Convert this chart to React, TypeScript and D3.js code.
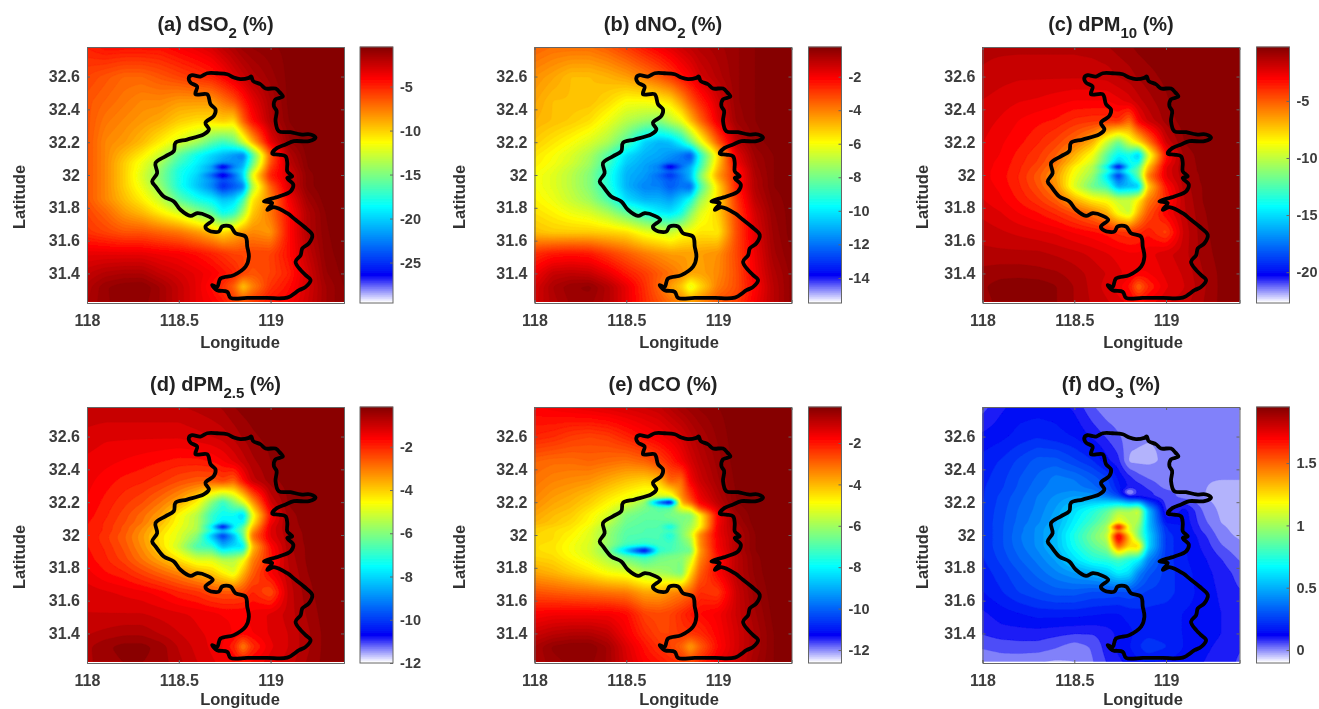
import React, { useEffect, useRef } from "react";
import * as d3 from "d3";

// grid nodes the values below were read at (denser around the city centre)
const lonGrid = [118, 118.1, 118.2, 118.3, 118.4, 118.5, 118.6, 118.68, 118.74, 118.8, 118.85, 118.9, 119, 119.1, 119.2, 119.3, 119.4];
const latGrid = [32.78, 32.6, 32.45, 32.33, 32.2, 32.12, 32.07, 32.05, 32.025, 32.0, 31.975, 31.93, 31.85, 31.77, 31.65, 31.52, 31.4, 31.32, 31.22];
const latGridCO = [32.78, 32.6, 32.45, 32.33, 32.23, 32.2, 32.17, 32.12, 32.07, 32.05, 32.025, 32.0, 31.975, 31.94, 31.905, 31.87, 31.77, 31.65, 31.52, 31.4, 31.32, 31.22];
const latGridO3 = [32.78, 32.6, 32.45, 32.35, 32.29, 32.26, 32.23, 32.15, 32.07, 32.05, 32.025, 32.0, 31.975, 31.93, 31.85, 31.77, 31.65, 31.52, 31.4, 31.32, 31.22];

const dSO2 = [
  [-5, -4.5, -4.5, -4.5, -4.5, -4, -3.5, -3, -2.3, -1.8, -1.3, -1.1, -0.9, -0.7, -0.5, -0.5, -0.5],
  [-6, -6.5, -7, -7, -6.5, -6, -5.5, -5, -4.2, -3.2, -2.6, -2, -1.3, -0.7, -0.5, -0.5, -0.5],
  [-6.5, -7, -7.5, -8, -8, -8.5, -8.5, -8.5, -7.5, -6.5, -5, -3.5, -1.8, -0.7, -0.5, -0.5, -0.5],
  [-6.5, -7.5, -8, -8.5, -9, -10, -10.5, -10.5, -10, -10.5, -7, -4.5, -2, -0.8, -0.5, -0.5, -0.5],
  [-6.5, -8, -8.5, -9.5, -11, -12.5, -14, -16, -17, -16, -13, -9.5, -3.5, -1.2, -0.6, -0.5, -0.5],
  [-6.5, -8, -9.5, -11, -13, -16, -18.5, -20, -21, -22, -23, -17, -7, -2, -0.7, -0.5, -0.5],
  [-6.5, -8, -10, -12, -14, -17, -19, -20.5, -22, -22, -21.5, -16, -6.5, -2.3, -0.8, -0.5, -0.5],
  [-6.5, -8, -10, -12, -14.5, -17.5, -19.5, -22, -29.5, -23, -21, -15, -6, -2.5, -0.8, -0.5, -0.5],
  [-6.5, -8, -10, -12.3, -14.8, -18, -19.5, -21, -22, -21, -20, -13.5, -5.5, -2.8, -0.9, -0.5, -0.5],
  [-6.5, -8, -10, -12.5, -15, -18, -20, -24, -29, -24, -20, -12, -5, -3, -1, -0.5, -0.5],
  [-6.5, -8, -10, -12.4, -15, -18, -20.3, -22, -24, -23, -20.5, -12.5, -5.5, -3, -1, -0.5, -0.5],
  [-6.5, -8, -10, -12, -14.5, -18, -20.5, -22.5, -25.5, -24, -23, -14, -7, -3, -1, -0.5, -0.5],
  [-6.5, -8, -9.5, -11, -13, -16, -18, -19, -20.5, -20, -17, -11, -8, -4, -1.5, -0.6, -0.5],
  [-6, -7, -8.5, -9.5, -11, -12.5, -14.5, -16, -18.5, -17.5, -14, -10, -7.5, -4.5, -2, -0.8, -0.5],
  [-5.5, -6, -6.5, -6.5, -7, -7.5, -8.5, -9.5, -10.5, -9.5, -8.5, -8, -8.5, -4.5, -2, -0.9, -0.5],
  [-3.5, -3.5, -3.5, -3.5, -3.8, -4, -4.5, -5, -5.5, -6, -6, -6, -6, -4.5, -2.5, -1, -0.6],
  [-2.5, -2, -1.8, -1.8, -2.5, -3, -3.5, -4, -4.5, -5, -6, -6.5, -6, -5, -3, -1.2, -0.7],
  [-2, -1.2, -0.9, -0.8, -1.5, -2.5, -3.5, -4.5, -5.5, -7, -10, -8, -5.5, -4.5, -3, -1.5, -0.8],
  [-1.8, -1.2, -1, -1, -1.5, -2.5, -3.5, -4, -4.5, -5.5, -6, -5.5, -4.5, -4, -2.8, -1.5, -0.8],
];

const dNO2 = [
  [-3.6, -3.8, -3.8, -3.8, -3.5, -3, -2.4, -2, -1.7, -1.4, -1.2, -1, -0.8, -0.6, -0.4, -0.3, -0.3],
  [-4.3, -4.6, -5, -5, -4.8, -4.5, -4, -3.5, -3, -2.4, -2, -1.5, -1, -0.6, -0.4, -0.3, -0.3],
  [-4.6, -5, -5, -5, -5.4, -6, -6, -5.8, -5.5, -4.5, -3.5, -2.7, -1.5, -0.6, -0.4, -0.3, -0.3],
  [-4.8, -5, -5.2, -5.5, -6.2, -7, -7.5, -7.8, -7, -6.3, -5, -3.8, -1.8, -0.7, -0.4, -0.3, -0.3],
  [-5.2, -5.6, -6, -6.5, -7.2, -8.5, -10.5, -11, -10.8, -9.8, -8.2, -6.5, -3.5, -1.2, -0.5, -0.3, -0.3],
  [-5.6, -6, -6.5, -7.2, -8.5, -10.3, -11, -11.2, -11.5, -12, -12.8, -9.5, -5.5, -1.8, -0.7, -0.4, -0.3],
  [-5.7, -6.1, -6.6, -7.4, -8.8, -10.6, -11.2, -11.5, -12, -12, -11.8, -9.2, -5.2, -2, -0.8, -0.4, -0.3],
  [-5.8, -6.2, -6.8, -7.5, -9, -10.8, -11.3, -12, -15.3, -12.3, -11, -9, -5, -2.3, -0.8, -0.4, -0.3],
  [-5.9, -6.3, -6.9, -7.7, -9.2, -10.9, -11.3, -11.6, -11.8, -11.5, -11, -8.5, -4.8, -2.5, -0.9, -0.4, -0.3],
  [-6, -6.4, -7, -7.8, -9.3, -11, -11.4, -12.3, -13.5, -12, -11, -8, -4.5, -2.6, -0.9, -0.4, -0.3],
  [-6, -6.4, -7, -7.8, -9.3, -11, -11.5, -12, -12.5, -12, -11, -8.2, -4.8, -2.6, -1, -0.4, -0.3],
  [-6, -6.4, -7, -7.8, -9.2, -11, -11.8, -11.8, -12.5, -12, -12.5, -9, -5.5, -2.6, -1, -0.4, -0.3],
  [-5.8, -6.2, -6.8, -7.4, -8.6, -10.3, -11, -11, -11.3, -10.5, -9.5, -7.5, -5.5, -3, -1.2, -0.5, -0.3],
  [-5.5, -5.8, -6.2, -6.5, -7.2, -8.3, -9.3, -10, -10.2, -9.5, -7.8, -6.5, -5.3, -3.2, -1.5, -0.6, -0.3],
  [-5, -5.2, -5.2, -5.2, -5.3, -5.5, -6.2, -6.5, -6.8, -6.2, -6, -5.6, -5.7, -3.3, -1.7, -0.7, -0.3],
  [-2.8, -2.5, -2.4, -2.5, -3, -3.5, -4, -4.3, -4.5, -4.5, -4.5, -4.5, -4.3, -3.2, -1.9, -0.8, -0.4],
  [-2, -1.3, -1.2, -1.3, -1.8, -2.5, -3, -3.5, -3.8, -4.2, -4.6, -4.6, -4.2, -3.3, -2, -1, -0.5],
  [-1.6, -0.9, -0.6, -0.5, -1, -1.8, -2.8, -3.7, -4.5, -5.2, -6.5, -5.5, -4, -3.3, -2.2, -1.1, -0.5],
  [-1.5, -1, -0.7, -0.7, -1, -1.8, -2.7, -3.3, -3.7, -4, -4.3, -4, -3.3, -3, -2, -1.1, -0.5],
];

const dPM10 = [
  [-1.5, -1.5, -1.5, -1.5, -1.5, -1.5, -1.4, -1.2, -1, -0.8, -0.6, -0.5, -0.4, -0.3, -0.3, -0.3, -0.3],
  [-1.7, -1.9, -2, -2, -2, -2, -2, -1.9, -1.6, -1.4, -1.1, -0.9, -0.6, -0.4, -0.3, -0.3, -0.3],
  [-2.1, -2.3, -2.5, -2.6, -2.8, -3, -3, -3, -2.7, -2.3, -1.8, -1.4, -0.8, -0.4, -0.3, -0.3, -0.3],
  [-2.3, -2.6, -3, -3.3, -3.5, -4, -4.2, -4.2, -4, -5.5, -3, -2, -1, -0.5, -0.3, -0.3, -0.3],
  [-2.5, -2.9, -3.3, -3.8, -4.5, -5.5, -7, -10, -12, -9.5, -8, -6, -2, -0.7, -0.4, -0.3, -0.3],
  [-2.7, -3, -3.6, -4.2, -5.2, -7, -9, -12.5, -14.5, -14, -16, -10, -3.5, -1, -0.5, -0.3, -0.3],
  [-2.8, -3.1, -3.7, -4.4, -5.6, -7.8, -9.8, -13, -16, -14, -14, -8.5, -3, -1.1, -0.5, -0.3, -0.3],
  [-2.8, -3.1, -3.8, -4.6, -6, -8.5, -10.5, -15, -22.5, -15, -12.5, -7.5, -2.5, -1.2, -0.5, -0.3, -0.3],
  [-2.8, -3.2, -3.8, -4.8, -6.2, -8.7, -10.5, -13, -15, -13, -12, -7, -2.5, -1.2, -0.5, -0.3, -0.3],
  [-2.8, -3.2, -3.9, -5, -6.5, -9, -11, -15, -20, -15, -12, -6, -2.5, -1.3, -0.6, -0.3, -0.3],
  [-2.8, -3.2, -3.9, -5, -6.5, -9.2, -11.3, -14.5, -18, -15.5, -13, -6.5, -2.7, -1.3, -0.6, -0.3, -0.3],
  [-2.7, -3.1, -3.8, -4.8, -6.2, -9.5, -12, -13, -16.5, -16, -16, -8, -3.5, -1.4, -0.7, -0.3, -0.3],
  [-2.5, -2.9, -3.5, -4.2, -5.2, -7, -8.5, -9, -10, -10, -8.5, -6, -4, -1.6, -0.7, -0.4, -0.3],
  [-2.2, -2.5, -3, -3.4, -4, -4.8, -5.8, -7, -9, -10, -7, -5, -3, -1.7, -0.8, -0.4, -0.3],
  [-1.8, -2, -2.2, -2.4, -2.6, -3, -3.3, -3.6, -4, -4.2, -4, -3.5, -4.6, -1.9, -0.9, -0.4, -0.3],
  [-1.5, -1.5, -1.5, -1.5, -1.7, -1.9, -2.2, -2.5, -2.7, -2.9, -2.9, -2.7, -2.2, -1.8, -1, -0.5, -0.3],
  [-1, -0.9, -0.9, -1, -1.1, -1.4, -1.8, -2.1, -2.4, -2.7, -3, -3, -2.4, -2, -1.2, -0.6, -0.3],
  [-0.8, -0.5, -0.4, -0.4, -0.7, -1.2, -1.8, -2.3, -2.8, -3.5, -5.5, -4, -2.6, -2.1, -1.3, -0.6, -0.3],
  [-0.9, -0.6, -0.5, -0.5, -0.7, -1.2, -1.7, -2, -2.3, -2.6, -3, -2.7, -2.1, -1.8, -1.2, -0.6, -0.3],
];

const dPM25 = [
  [-0.9, -0.9, -0.9, -0.9, -0.9, -0.9, -0.8, -0.7, -0.6, -0.4, -0.3, -0.25, -0.2, -0.2, -0.16, -0.16, -0.16],
  [-1.2, -1.3, -1.3, -1.3, -1.3, -1.3, -1.2, -1.1, -1, -0.8, -0.6, -0.45, -0.3, -0.2, -0.16, -0.16, -0.16],
  [-1.4, -1.5, -1.6, -1.7, -1.8, -1.9, -1.9, -1.8, -1.6, -1.3, -1, -0.7, -0.4, -0.2, -0.16, -0.16, -0.16],
  [-1.5, -1.7, -1.9, -2, -2.2, -2.5, -2.7, -2.7, -2.4, -2.8, -1.8, -1, -0.5, -0.25, -0.16, -0.16, -0.16],
  [-1.6, -1.9, -2.2, -2.5, -3, -3.6, -4.5, -6, -7, -6, -5, -3.5, -1.1, -0.35, -0.2, -0.16, -0.16],
  [-1.7, -2, -2.4, -2.9, -3.5, -4.6, -5.5, -7, -7.5, -7.5, -8.3, -5, -1.8, -0.5, -0.25, -0.16, -0.16],
  [-1.8, -2.1, -2.5, -3, -3.8, -4.7, -5.5, -7, -8, -7.5, -7.5, -4.5, -1.5, -0.55, -0.25, -0.16, -0.16],
  [-1.8, -2.1, -2.6, -3.2, -4, -4.8, -5.5, -8, -12, -8, -6.5, -4, -1.3, -0.6, -0.25, -0.16, -0.16],
  [-1.8, -2.1, -2.6, -3.3, -4.1, -4.9, -5.6, -7, -7.5, -7, -6.3, -3.5, -1.3, -0.65, -0.28, -0.16, -0.16],
  [-1.8, -2.2, -2.7, -3.4, -4.3, -5, -6, -8.5, -10.5, -8.5, -6.5, -3, -1.3, -0.7, -0.3, -0.16, -0.16],
  [-1.8, -2.2, -2.7, -3.4, -4.3, -5, -6.2, -8, -9.5, -8.5, -6.8, -3.2, -1.4, -0.7, -0.3, -0.16, -0.16],
  [-1.8, -2.1, -2.6, -3.3, -4.2, -5.3, -6.8, -7, -8.5, -8, -8, -4, -1.8, -0.7, -0.35, -0.16, -0.16],
  [-1.7, -2, -2.4, -3, -3.6, -4.3, -5, -5, -5.5, -5.5, -4.8, -3.2, -2, -0.8, -0.35, -0.2, -0.16],
  [-1.5, -1.8, -2, -2.4, -2.8, -3.2, -3.7, -4, -4.5, -5, -3.8, -2.8, -1.6, -0.9, -0.4, -0.2, -0.16],
  [-1.2, -1.3, -1.4, -1.5, -1.7, -2, -2.2, -2.5, -2.6, -2.6, -2.5, -2, -2.6, -1, -0.5, -0.2, -0.16],
  [-1.1, -1.1, -1.1, -1.1, -1.2, -1.3, -1.4, -1.5, -1.6, -1.6, -1.6, -1.5, -1.3, -1, -0.6, -0.25, -0.16],
  [-0.9, -0.8, -0.7, -0.7, -0.9, -1.1, -1.3, -1.4, -1.5, -1.6, -1.7, -1.6, -1.3, -1.1, -0.7, -0.3, -0.16],
  [-0.7, -0.45, -0.3, -0.3, -0.5, -0.9, -1.2, -1.4, -1.6, -2, -3.2, -2.2, -1.4, -1.1, -0.7, -0.3, -0.16],
  [-0.7, -0.5, -0.4, -0.4, -0.5, -0.8, -1.1, -1.3, -1.4, -1.5, -1.6, -1.5, -1.2, -1, -0.6, -0.3, -0.16],
];

const dCO = [
  [-1.8, -1.7, -1.6, -1.5, -1.4, -1.3, -1.2, -1.1, -0.9, -0.7, -0.6, -0.5, -0.4, -0.3, -0.26, -0.26, -0.26],
  [-2.2, -2.3, -2.5, -2.6, -2.5, -2.2, -1.9, -1.7, -1.5, -1.3, -1, -0.8, -0.5, -0.3, -0.26, -0.26, -0.26],
  [-3, -3.1, -3.1, -3, -3.1, -3.2, -3, -2.6, -2.2, -1.7, -1.3, -1, -0.6, -0.3, -0.26, -0.26, -0.26],
  [-3.2, -3.4, -3.5, -3.6, -3.9, -4.2, -4.4, -4.2, -3, -3.2, -1.7, -1.2, -0.7, -0.35, -0.26, -0.26, -0.26],
  [-3.4, -3.7, -3.9, -4.2, -4.6, -5, -5.4, -5.5, -5.5, -3.6, -2.6, -1.6, -0.9, -0.38, -0.28, -0.26, -0.26],
  [-3.5, -3.8, -4, -4.3, -4.8, -5.2, -6.2, -10.5, -12.6, -4, -3, -1.8, -1, -0.4, -0.3, -0.26, -0.26],
  [-3.6, -3.9, -4.1, -4.5, -5, -5.8, -6.5, -7, -7, -5, -4.5, -2.5, -1.2, -0.45, -0.3, -0.26, -0.26],
  [-3.8, -4.1, -4.3, -4.8, -5.4, -6.5, -6.8, -6.8, -6.5, -6.5, -6.5, -5, -1.8, -0.6, -0.3, -0.26, -0.26],
  [-4, -4.2, -4.5, -4.9, -5.7, -6.7, -6.9, -6.9, -7, -6.5, -6.2, -5, -1.7, -0.7, -0.32, -0.26, -0.26],
  [-4.2, -4.4, -4.6, -5.1, -6, -6.8, -7, -7, -8.2, -6.5, -6, -5, -1.6, -0.8, -0.35, -0.26, -0.26],
  [-4.3, -4.5, -4.7, -5.2, -6.1, -6.9, -7, -7, -7, -6.5, -5.8, -4.2, -1.6, -0.85, -0.38, -0.26, -0.26],
  [-4.4, -4.5, -4.8, -5.3, -6.2, -7, -7, -7.1, -7.8, -6.5, -5.5, -3.5, -1.6, -0.9, -0.4, -0.26, -0.26],
  [-4.4, -4.5, -4.9, -5.3, -6.2, -7, -7.2, -7.1, -7.5, -6.6, -6, -3.6, -1.7, -0.9, -0.4, -0.26, -0.26],
  [-4.5, -4.6, -5, -5.4, -6.2, -7.2, -7.4, -7.2, -7.2, -6.8, -6.2, -3.6, -1.7, -0.9, -0.4, -0.26, -0.26],
  [-4.5, -4.6, -5, -5.4, -6.4, -9, -12.2, -7.5, -7.2, -6.8, -6.8, -3.8, -1.8, -0.9, -0.4, -0.26, -0.26],
  [-4.4, -4.5, -4.9, -5.3, -6, -6.8, -7.4, -6.7, -6.5, -6.4, -5.8, -3.6, -2, -1, -0.45, -0.26, -0.26],
  [-3.8, -4, -4.3, -4.6, -5, -5.2, -5.8, -6, -6.2, -6.6, -4.5, -3, -1.8, -1, -0.5, -0.26, -0.26],
  [-2.8, -2.9, -3, -3.1, -3.2, -3.3, -3.8, -3.8, -3.5, -3.3, -3, -2.3, -2.5, -1.2, -0.6, -0.3, -0.26],
  [-1.8, -1.7, -1.7, -1.7, -1.7, -1.9, -2.6, -2.7, -2.6, -2.3, -2, -1.9, -1.7, -1.2, -0.7, -0.35, -0.26],
  [-1.2, -1, -0.9, -0.9, -1.1, -1.7, -2.3, -2.6, -2.6, -2.4, -2.4, -2.3, -1.8, -1.3, -0.8, -0.4, -0.26],
  [-0.8, -0.5, -0.4, -0.4, -0.7, -1.4, -2, -2.4, -2.6, -3, -3.8, -3, -1.9, -1.3, -0.8, -0.4, -0.26],
  [-0.8, -0.6, -0.5, -0.5, -0.7, -1.3, -1.8, -2, -2.2, -2.3, -2.5, -2.2, -1.6, -1.2, -0.7, -0.4, -0.26],
];

const dO3 = [
  [0.05, 0.1, 0.13, 0.13, 0.13, 0.1, 0.03, -0.01, -0.015, -0.015, -0.015, -0.015, -0.015, -0.015, -0.015, -0.015, -0.015],
  [0.12, 0.14, 0.17, 0.19, 0.17, 0.15, 0.1, 0.06, 0.03, 0, -0.01, -0.015, -0.015, -0.015, -0.015, -0.015, -0.015],
  [0.17, 0.2, 0.25, 0.3, 0.3, 0.25, 0.2, 0.12, 0.08, -0.03, -0.03, -0.03, -0.01, -0.01, -0.015, -0.015, -0.015],
  [0.18, 0.22, 0.28, 0.33, 0.38, 0.36, 0.3, 0.24, 0.14, 0.08, 0.04, 0.02, -0.005, -0.01, -0.015, -0.015, -0.015],
  [0.19, 0.23, 0.29, 0.35, 0.39, 0.39, 0.34, 0.27, 0.17, 0.1, 0.09, 0.06, 0.01, 0, -0.015, -0.03, -0.03],
  [0.19, 0.24, 0.3, 0.36, 0.4, 0.42, 0.4, 0.3, 0.2, -0.1, 0.1, 0.08, 0.04, 0.01, -0.015, -0.04, -0.04],
  [0.19, 0.25, 0.31, 0.37, 0.42, 0.46, 0.45, 0.4, 0.3, 0.14, 0.1, 0.08, 0.04, 0.01, -0.015, -0.04, -0.04],
  [0.2, 0.26, 0.33, 0.38, 0.46, 0.6, 0.72, 0.85, 1, 1, 1.1, 0.55, 0.05, 0.13, 0.02, -0.03, -0.04],
  [0.2, 0.27, 0.34, 0.4, 0.49, 0.65, 0.8, 0.95, 1.2, 1.05, 1, 0.55, 0.15, 0.14, 0.04, -0.02, -0.04],
  [0.2, 0.27, 0.35, 0.42, 0.5, 0.67, 0.85, 1, 1.9, 1.1, 0.95, 0.55, 0.2, 0.15, 0.05, -0.01, -0.04],
  [0.2, 0.27, 0.35, 0.42, 0.52, 0.69, 0.87, 1, 1.3, 1.1, 0.92, 0.57, 0.2, 0.15, 0.06, -0.005, -0.035],
  [0.2, 0.27, 0.36, 0.42, 0.52, 0.72, 0.9, 1.05, 1.8, 1.25, 0.9, 0.6, 0.22, 0.16, 0.08, 0, -0.03],
  [0.2, 0.27, 0.36, 0.42, 0.52, 0.71, 0.9, 1.02, 1.75, 1.3, 1, 0.6, 0.22, 0.16, 0.09, 0.01, -0.02],
  [0.2, 0.27, 0.35, 0.42, 0.52, 0.69, 0.85, 0.95, 1.5, 1.25, 1.3, 0.6, 0.22, 0.16, 0.1, 0.03, -0.01],
  [0.19, 0.25, 0.32, 0.38, 0.46, 0.6, 0.72, 0.75, 0.8, 0.72, 0.65, 0.4, 0.22, 0.16, 0.12, 0.07, 0.02],
  [0.17, 0.22, 0.28, 0.34, 0.4, 0.45, 0.5, 0.55, 0.65, 0.6, 0.4, 0.3, 0.22, 0.17, 0.13, 0.09, 0.05],
  [0.15, 0.19, 0.24, 0.27, 0.3, 0.3, 0.27, 0.27, 0.26, 0.27, 0.25, 0.23, 0.22, 0.17, 0.14, 0.1, 0.07],
  [0.1, 0.13, 0.15, 0.17, 0.17, 0.17, 0.16, 0.15, 0.15, 0.17, 0.18, 0.18, 0.17, 0.15, 0.14, 0.11, 0.08],
  [0.07, 0.09, 0.09, 0.09, 0.08, 0.07, 0.07, 0.09, 0.12, 0.14, 0.17, 0.18, 0.17, 0.15, 0.13, 0.11, 0.08],
  [0.03, 0.04, 0.05, 0.05, 0.03, 0, 0.03, 0.09, 0.12, 0.15, 0.19, 0.23, 0.2, 0.15, 0.12, 0.1, 0.07],
  [-0.01, 0, -0.01, -0.02, -0.03, -0.02, 0.02, 0.07, 0.1, 0.12, 0.14, 0.15, 0.14, 0.13, 0.11, 0.09, 0.06],
];

// study area outline, [lon, lat]
const outline: [number, number][] = [
  [118.555, 32.594], [118.573, 32.608], [118.618, 32.6], [118.655, 32.62], [118.709, 32.62], [118.764, 32.614],
  [118.8, 32.594], [118.836, 32.584], [118.882, 32.592], [118.895, 32.6], [118.905, 32.573], [118.945, 32.553],
  [118.973, 32.527], [119.027, 32.527], [119.051, 32.502], [119.067, 32.478], [119.027, 32.461], [119.018, 32.42],
  [119.033, 32.39], [119.027, 32.329], [119.045, 32.267], [119.109, 32.261], [119.164, 32.247], [119.218, 32.247],
  [119.245, 32.227], [119.209, 32.206], [119.127, 32.206], [119.082, 32.186], [119.036, 32.165], [119.009, 32.131],
  [119.045, 32.124], [119.082, 32.114], [119.091, 32.073], [119.091, 32.022], [119.118, 31.992], [119.091, 31.982],
  [119.124, 31.941], [119.109, 31.9], [119.045, 31.869], [118.964, 31.839], [119.009, 31.829], [118.982, 31.788],
  [119.018, 31.804], [119.091, 31.767], [119.136, 31.727], [119.182, 31.686], [119.227, 31.635], [119.209, 31.584],
  [119.173, 31.553], [119.164, 31.512], [119.136, 31.471], [119.164, 31.42], [119.191, 31.39], [119.218, 31.359],
  [119.191, 31.318], [119.155, 31.298], [119.091, 31.253], [118.982, 31.251], [118.873, 31.251], [118.782, 31.251],
  [118.764, 31.288], [118.709, 31.298], [118.682, 31.329], [118.709, 31.318], [118.727, 31.369], [118.8, 31.39],
  [118.864, 31.441], [118.882, 31.502], [118.873, 31.563], [118.864, 31.624], [118.809, 31.645], [118.782, 31.686],
  [118.736, 31.686], [118.718, 31.655], [118.664, 31.661], [118.645, 31.686], [118.685, 31.727], [118.655, 31.751],
  [118.6, 31.767], [118.564, 31.751], [118.509, 31.788], [118.473, 31.839], [118.418, 31.869], [118.373, 31.931],
  [118.355, 31.961], [118.382, 32.012], [118.373, 32.073], [118.427, 32.114], [118.473, 32.145], [118.482, 32.196],
  [118.545, 32.216], [118.636, 32.247], [118.664, 32.278], [118.645, 32.318], [118.691, 32.359], [118.7, 32.4],
  [118.673, 32.431], [118.655, 32.492], [118.591, 32.492], [118.6, 32.539], [118.564, 32.563],
];

const lonTicks = [118, 118.5, 119];
const latTicks = [31.4, 31.6, 31.8, 32, 32.2, 32.4, 32.6];

const colTicks5 = [-25, -20, -15, -10, -5];
const colTicksNO2 = [-14, -12, -10, -8, -6, -4, -2];
const colTicksPM10 = [-20, -15, -10, -5];
const colTicksPM25 = [-12, -10, -8, -6, -4, -2];
const colTicksCO = [-12, -10, -8, -6, -4, -2];
const colTicksO3 = [0, 0.5, 1, 1.5];

const jet = d3
  .scaleLinear<string>()
  .domain([0, 0.105, 0.375, 0.625, 0.875, 1])
  .range(["#ffffff", "#0000f5", "#00ffff", "#ffff00", "#ff0000", "#800000"])
  .clamp(true);

const FONT = "'Liberation Sans', Arial, sans-serif";
const INK = "#3d3d3d";
const EDGE = "#666666";
const PLOT_W = 257;
const PLOT_H = 256;
const BAR_W = 33;
const colX = [87, 534.5, 982.5];
const barX = [360, 808.5, 1256.5];
const rowY = [47, 407];
const xLabelX = [240, 679, 1143];
const yLabelX = [25, 465, 928];
const xLabelY = [348, 705];

const panels = [
  { tag: "(a) dSO", sub: "2", col: 0, row: 0, values: dSO2, lats: latGrid, levels: 90, range: [-29.6, -0.5], ticks: colTicks5 },
  { tag: "(b) dNO", sub: "2", col: 1, row: 0, values: dNO2, lats: latGrid, levels: 90, range: [-15.5, -0.23], ticks: colTicksNO2 },
  { tag: "(c) dPM", sub: "10", col: 2, row: 0, values: dPM10, lats: latGrid, levels: 50, range: [-22.7, -0.28], ticks: colTicksPM10 },
  { tag: "(d) dPM", sub: "2.5", col: 0, row: 1, values: dPM25, lats: latGrid, levels: 50, range: [-12, -0.16], ticks: colTicksPM25 },
  { tag: "(e) dCO", sub: "", col: 1, row: 1, values: dCO, lats: latGridCO, levels: 90, range: [-12.63, -0.26], ticks: colTicksCO },
  { tag: "(f) dO", sub: "3", col: 2, row: 1, values: dO3, lats: latGridO3, levels: 48, range: [-0.104, 1.95], ticks: colTicksO3 },
];

// resample the read values on a regular raster so d3.contours can trace them
function resample(values: number[][], lats: number[], nx: number, ny: number) {
  const lonIdx = d3.scaleLinear().domain(lonGrid).range(d3.range(lonGrid.length));
  const latIdx = d3.scaleLinear().domain(lats).range(d3.range(lats.length));
  const lonAt = d3.scaleLinear().domain([0, nx - 1]).range([118, 119.4]);
  const latAt = d3.scaleLinear().domain([0, ny - 1]).range([32.78, 31.22]);
  const out = new Float64Array(nx * ny);
  for (let j = 0; j < ny; j++) {
    const fy = latIdx(latAt(j));
    const r0 = Math.min(Math.floor(fy), lats.length - 2);
    const ty = fy - r0;
    for (let i = 0; i < nx; i++) {
      const fx = lonIdx(lonAt(i));
      const c0 = Math.min(Math.floor(fx), lonGrid.length - 2);
      const tx = fx - c0;
      const top = values[r0][c0] * (1 - tx) + values[r0][c0 + 1] * tx;
      const bot = values[r0 + 1][c0] * (1 - tx) + values[r0 + 1][c0 + 1] * tx;
      out[j * nx + i] = top * (1 - ty) + bot * ty;
    }
  }
  d3.blur2({ data: out, width: nx, height: ny }, 0.5);
  return out;
}

function drawPanel(root: SVGGElement, p: (typeof panels)[number], idx: number) {
  const g = d3.select(root);
  g.selectAll("*").remove();
  const x0 = colX[p.col];
  const y0 = rowY[p.row];
  const x = d3.scaleLinear().domain([118, 119.4]).range([x0, x0 + PLOT_W]);
  const y = d3.scaleLinear().domain([31.22, 32.78]).range([y0 + PLOT_H, y0]);
  const col = d3.scaleLinear().domain(p.range).range([0, 1]);

  const nx = 200;
  const ny = 200;
  const grid = resample(p.values, p.lats, nx, ny);
  const step = (p.range[1] - p.range[0]) / p.levels;
  const levels = d3.range(p.levels).map((i) => p.range[0] + step * i);
  const contours = d3.contours().size([nx, ny]).thresholds(levels)(Array.from(grid));
  const gx = d3.scaleLinear().domain([0.5, nx - 0.5]).range([x0, x0 + PLOT_W]);
  const gy = d3.scaleLinear().domain([0.5, ny - 0.5]).range([y0, y0 + PLOT_H]);
  const path = d3.geoPath(
    d3.geoTransform({
      point(a, b) {
        this.stream.point(gx(a), gy(b));
      },
    })
  );

  const clipId = `plot-clip-${idx}`;
  g.append("clipPath")
    .attr("id", clipId)
    .append("rect")
    .attr("x", x0)
    .attr("y", y0)
    .attr("width", PLOT_W)
    .attr("height", PLOT_H - 1.5);

  const field = g.append("g").attr("clip-path", `url(#${clipId})`);
  field
    .selectAll("path")
    .data(contours)
    .join("path")
    .attr("d", (d) => path(d as any))
    .attr("fill", (d) => jet(col(d.value + step / 2)))
    .attr("stroke", (d) => jet(col(d.value + step / 2)))
    .attr("stroke-width", 0.3);

  const border = d3
    .line<[number, number]>()
    .x((d) => x(d[0]))
    .y((d) => y(d[1]))
    .curve(d3.curveCatmullRomClosed.alpha(0.5));
  g.append("path")
    .attr("d", border(outline))
    .attr("fill", "none")
    .attr("stroke", "#000")
    .attr("stroke-width", 3.8)
    .attr("stroke-linejoin", "round");

  const fmt = d3.format("");
  const style = (a: any) => {
    a.selectAll("path").attr("stroke", EDGE).attr("stroke-width", 1);
    a.selectAll("line").attr("stroke", EDGE);
    a.selectAll("text")
      .attr("fill", INK)
      .attr("font-family", FONT)
      .attr("font-weight", "bold")
      .attr("font-size", 16);
  };
  g.append("g")
    .attr("transform", `translate(0,${y0 + PLOT_H})`)
    .call(d3.axisBottom(x).tickValues(lonTicks).tickSize(-3).tickPadding(12).tickFormat((d) => fmt(d as number)))
    .call(style);
  g.append("g")
    .attr("transform", `translate(${x0},0)`)
    .call(d3.axisLeft(y).tickValues(latTicks).tickSize(-3).tickPadding(7).tickFormat((d) => fmt(d as number)))
    .call(style);
  g.append("g")
    .attr("transform", `translate(0,${y0})`)
    .call(d3.axisTop(x).tickValues(lonTicks).tickSize(-3).tickFormat(() => ""))
    .call(style);
  g.append("g")
    .attr("transform", `translate(${x0 + PLOT_W},0)`)
    .call(d3.axisRight(y).tickValues(latTicks).tickSize(-3).tickFormat(() => ""))
    .call(style);

  // colour bar
  const bx = barX[p.col];
  const by = d3.scaleLinear().domain(p.range).range([y0 + PLOT_H, y0]);
  const steps = d3.range(128).map((i) => p.range[0] + ((p.range[1] - p.range[0]) * i) / 128);
  const stepH = PLOT_H / 128;
  g.append("g")
    .selectAll("rect")
    .data(steps)
    .join("rect")
    .attr("x", bx)
    .attr("y", (d) => by(d) - stepH - 0.3)
    .attr("width", BAR_W)
    .attr("height", stepH + 0.6)
    .attr("fill", (d) => jet(col(d)));
  g.append("rect")
    .attr("x", bx)
    .attr("y", y0)
    .attr("width", BAR_W)
    .attr("height", PLOT_H)
    .attr("fill", "none")
    .attr("stroke", EDGE);
  g.append("g")
    .attr("transform", `translate(${bx + BAR_W},0)`)
    .call(d3.axisRight(by).tickValues(p.ticks).tickSize(-3).tickPadding(7).tickFormat((d) => fmt(d as number).replace("\u2212", "-")))
    .call(style)
    .call((a: any) => a.selectAll("text").attr("font-size", 14.5))
    .call((a: any) => a.select("path").remove());

  // labels
  const title = g
    .append("text")
    .attr("x", x0 + PLOT_W / 2)
    .attr("y", y0 - 16)
    .attr("text-anchor", "middle")
    .attr("font-family", FONT)
    .attr("font-weight", "bold")
    .attr("font-size", 20)
    .attr("fill", "#222");
  title.append("tspan").text(p.tag);
  if (p.sub) {
    title.append("tspan").attr("dy", 7).attr("font-size", 15).text(p.sub);
    title.append("tspan").attr("dy", -7).text(" (%)");
  } else {
    title.append("tspan").text(" (%)");
  }

  g.append("text")
    .attr("x", xLabelX[p.col])
    .attr("y", xLabelY[p.row])
    .attr("text-anchor", "middle")
    .attr("font-family", FONT)
    .attr("font-weight", "bold")
    .attr("font-size", 16.5)
    .attr("fill", "#333")
    .text("Longitude");
  g.append("text")
    .attr("transform", `translate(${yLabelX[p.col]},${y0 + 150}) rotate(-90)`)
    .attr("text-anchor", "middle")
    .attr("font-family", FONT)
    .attr("font-weight", "bold")
    .attr("font-size", 16.5)
    .attr("fill", "#333")
    .text("Latitude");
}

function Panel({ spec, idx }: { spec: (typeof panels)[number]; idx: number }) {
  const ref = useRef<SVGGElement>(null);
  useEffect(() => {
    if (ref.current) drawPanel(ref.current, spec, idx);
  }, [spec, idx]);
  return <g ref={ref} />;
}

export default function App() {
  return (
    <svg
      width={1319}
      height={709}
      viewBox="0 0 1319 709"
      style={{ position: "absolute", left: 0, top: 0, background: "#fff" }}
    >
      <defs>
        <filter id="soft" x="0" y="0" width="100%" height="100%">
          <feGaussianBlur stdDeviation="0.45" />
        </filter>
      </defs>
      <g filter="url(#soft)">
        {panels.map((p, i) => (
          <Panel key={p.tag} spec={p} idx={i} />
        ))}
      </g>
    </svg>
  );
}
